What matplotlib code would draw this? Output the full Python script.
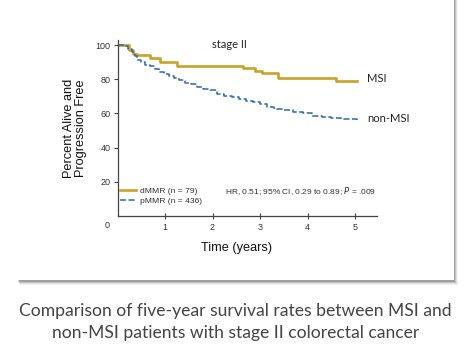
import matplotlib
matplotlib.use("Agg")
import matplotlib.pyplot as plt
from matplotlib.patches import Rectangle

# Kaplan-Meier style curves (years, percent)
msi_t = [0, 0.25, 0.32, 0.4, 0.68, 0.9, 1.25, 2.65, 2.9, 3.05, 3.37, 4.6, 5.03]
msi_s = [100, 97, 95, 94, 92.5, 90, 88, 86.5, 85, 83.5, 81, 79, 79]

non_t = [0, 0.15, 0.22, 0.3, 0.36, 0.42, 0.5, 0.58, 0.68, 0.78, 0.88, 0.98,
         1.08, 1.18, 1.3, 1.42, 1.55, 1.68, 1.8, 1.95, 2.1, 2.25, 2.4, 2.55,
         2.7, 2.85, 3.0, 3.15, 3.3, 3.5, 3.7, 3.9, 4.1, 4.3, 4.5, 4.7, 4.85, 5.03]
non_s = [100, 99.5, 98, 96, 93.5, 91.5, 90, 88.5, 87.5, 86, 84.5, 83,
         82, 80.5, 79.5, 78, 77, 75.5, 74.5, 73.5, 71.5, 70.5, 69.5, 68.5,
         67.5, 66.5, 65.5, 64, 62.5, 62, 61, 60, 58.5, 58, 57.5, 57, 56.5, 56]

yticks = [20, 40, 60, 80, 100]
xticks = [1, 2, 3, 4, 5]
legend_labels = ["dMMR (n = 79)", "pMMR (n = 436)"]
stats_text = "HR, 0.51; 95% CI, 0.29 to 0.89; $\\it{P}$ = .009"
caption = ("Comparison of five-year survival rates between MSI and\n"
           "non-MSI patients with stage II colorectal cancer")

GOLD = "#c9a227"
BLUE = "#2f6aa8"
AX = "#444444"
chart_font = ["Liberation Sans Narrow", "Liberation Sans", "DejaVu Sans"]
web_font = ["Lato", "DejaVu Sans"]

W, H = 471, 353
fig = plt.figure(figsize=(W / 100, H / 100), dpi=100)
fig.patch.set_facecolor("white")

# card with soft shadow
for i, a in enumerate([0.05, 0.08, 0.12, 0.18]):
    off = 4 - i
    fig.patches.append(Rectangle(((18 + off * 0.4) / W, (353 - 281 - off) / H),
                                 (436 + off * 0.6) / W, (281 + off) / H,
                                 transform=fig.transFigure, color="black",
                                 alpha=a, lw=0, zorder=0))
fig.patches.append(Rectangle((18 / W, (353 - 280) / H), 436 / W, 282 / H,
                             transform=fig.transFigure, facecolor="white",
                             lw=0, zorder=1))

ax = fig.add_axes([117.5 / W, (353 - 216) / H, 259.5 / W, 176 / H])
ax.set_facecolor("none")
ax.set_zorder(2)

ax.step(msi_t, msi_s, where="post", color=GOLD, lw=1.9, label=legend_labels[0])
ax.step(non_t, non_s, where="post", color=BLUE, lw=1.1, ls=(0, (4, 1.6)),
        label=legend_labels[1])

ax.set_xlim(0, 5.46)
ax.set_ylim(0, 103)
for s in ("top", "right"):
    ax.spines[s].set_visible(False)
for s in ("left", "bottom"):
    ax.spines[s].set_color(AX)
    ax.spines[s].set_linewidth(0.9)

ax.set_yticks(yticks)
ax.set_xticks(xticks)
ax.tick_params(axis="y", direction="out", length=3, width=0.8, color=AX,
               labelsize=6.5, labelcolor="#333333", pad=2)
ax.tick_params(axis="x", direction="inout", length=4, width=0.8, color=AX,
               labelsize=6.5, labelcolor="#333333", pad=3)
for lab in ax.get_xticklabels() + ax.get_yticklabels():
    lab.set_family(chart_font)
ax.text(-0.22, -5.8, "0", fontsize=6.5, color="#333333", family=chart_font,
        ha="center", va="center")

ax.set_xlabel("Time (years)", fontsize=9.2, family=chart_font,
              color="#111111")
ax.xaxis.set_label_coords(2.5 / 5.46, -0.145)
ax.set_ylabel("Percent Alive and\nProgression Free", fontsize=9.2,
              family=chart_font, color="#111111", linespacing=1.0)
ax.yaxis.set_label_coords(-0.117, 0.5)

leg = ax.legend(loc="lower left", bbox_to_anchor=(-0.01, 0.035), frameon=False,
                handlelength=1.9, handletextpad=0.5,
                labelspacing=0.25, borderaxespad=0.2,
                prop={"family": chart_font, "size": 6.1})
for t in leg.get_texts():
    t.set_color("#333333")

ax.text(2.27, 14.5, stats_text, fontsize=6.0, family=chart_font,
        color="#333333", va="center")

ax.text(1.98, 100.5, "stage II", fontsize=8, family=web_font,
        color="#222222", va="center")
ax.text(5.25, 80.5, "MSI", fontsize=8, family=web_font, color="#222222",
        va="center")
ax.text(5.25, 57, "non-MSI", fontsize=8, family=web_font, color="#222222",
        va="center")

fig.text(0.5, (353 - 322) / H, caption, ha="center", va="center",
         fontsize=12.6, family=web_font, color="#444444", linespacing=1.5)

fig.savefig("out.png", dpi=100)
